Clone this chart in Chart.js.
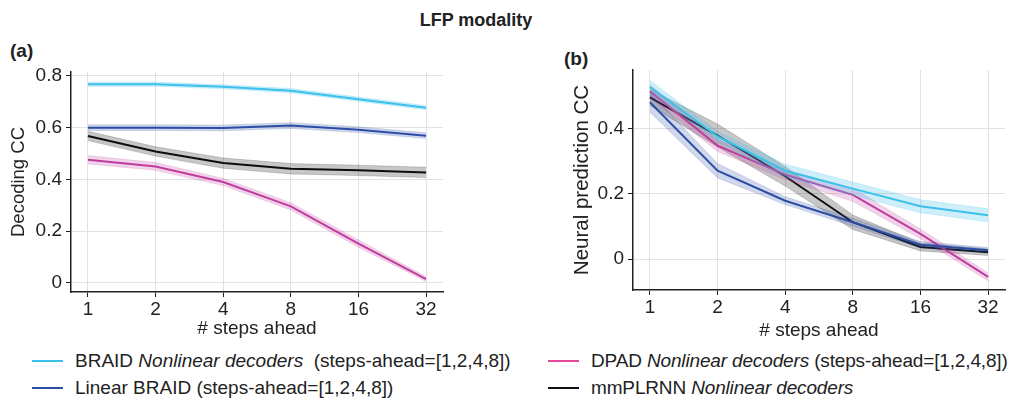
<!DOCTYPE html>
<html>
<head>
<meta charset="utf-8">
<script src="https://cdn.jsdelivr.net/npm/chart.js@4"></script>
<style>
  body { margin: 0; background: #fff; width: 1012px; height: 400px; position: relative; overflow: hidden;
         font-family: "Liberation Sans", Arial, sans-serif; color: #222; }
  .box { position: absolute; }
  #title { position: absolute; left: 0; width: 952px; top: 10px; text-align: center; font-weight: bold; font-size: 18px; }
  .panel { position: absolute; font-weight: bold; font-size: 19px; }
  .leg { position: absolute; font-size: 19px; white-space: nowrap; line-height: 22px; }
  .leg span.ln { display: inline-block; width: 31px; height: 2px; vertical-align: middle; margin-right: 12px; position: relative; top: -1px; }
  .leg.r { letter-spacing: -0.15px; }
</style>
</head>
<body>
<div id="title">LFP modality</div>
<div class="panel" style="left:10px;top:40px;">(a)</div>
<div class="panel" style="left:564px;top:48px;">(b)</div>
<div class="box" style="left:0;top:0;width:460px;height:345px;"><canvas id="ca"></canvas></div>
<div class="box" style="left:540px;top:0;width:472px;height:345px;"><canvas id="cb"></canvas></div>

<div class="leg" style="left:32px;top:350px;"><span class="ln" style="background:#3cc0ec"></span>BRAID <i>Nonlinear decoders</i>&nbsp; (steps-ahead=[1,2,4,8])</div>
<div class="leg" style="left:32px;top:377px;"><span class="ln" style="background:#2c4ea6"></span>Linear BRAID (steps-ahead=[1,2,4,8])</div>
<div class="leg r" style="left:548px;top:350px;"><span class="ln" style="background:#e8489c"></span>DPAD <i>Nonlinear decoders</i> (steps-ahead=[1,2,4,8])</div>
<div class="leg r" style="left:548px;top:377px;"><span class="ln" style="background:#111"></span>mmPLRNN <i>Nonlinear decoders</i></div>

<script>
// categories (steps ahead)
const steps = ['1', '2', '4', '8', '16', '32'];

// (a) decoding CC
const decBraid  = [0.768, 0.768, 0.758, 0.743, 0.710, 0.677];
const decLinear = [0.600, 0.600, 0.599, 0.608, 0.592, 0.569];
const decPlrnn  = [0.568, 0.508, 0.463, 0.441, 0.435, 0.427];
const decDpad   = [0.476, 0.450, 0.390, 0.296, 0.152, 0.015];
const decBraidErr  = [0.008, 0.008, 0.008, 0.008, 0.008, 0.008];
const decLinearErr = [0.011, 0.011, 0.011, 0.011, 0.011, 0.011];
const decPlrnnErr  = [0.018, 0.018, 0.020, 0.020, 0.020, 0.020];
const decDpadErr   = [0.016, 0.015, 0.014, 0.014, 0.014, 0.010];

// (b) neural prediction CC
const nrnBraid  = [0.528, 0.376, 0.271, 0.216, 0.162, 0.134];
const nrnLinear = [0.481, 0.271, 0.179, 0.113, 0.044, 0.027];
const nrnPlrnn  = [0.496, 0.379, 0.254, 0.113, 0.037, 0.021];
const nrnDpad   = [0.515, 0.348, 0.259, 0.197, 0.077, -0.055];
const nrnBraidErr  = [0.020, 0.015, 0.020, 0.020, 0.020, 0.020];
const nrnLinearErr = [0.030, 0.022, 0.012, 0.012, 0.010, 0.008];
const nrnPlrnnErr  = [0.025, 0.035, 0.030, 0.022, 0.012, 0.010];
const nrnDpadErr   = [0.020, 0.018, 0.015, 0.020, 0.015, 0.012];

const yTicksA = [0, 0.2, 0.4, 0.6, 0.8];
const yTicksB = [0, 0.2, 0.4];

const colBraid = '#3cc0ec', colLinear = '#2c4ea6', colPlrnn = '#111111', colDpad = '#c13d9e';
const bandBraid = 'rgba(60,192,236,0.25)', bandLinear = 'rgba(44,78,166,0.22)',
      bandPlrnn = 'rgba(0,0,0,0.22)', bandDpad = 'rgba(193,61,158,0.22)';

function series(vals, err, color, band) {
  const lo = vals.map((v, i) => ({ x: i, y: v - err[i] }));
  const hi = vals.map((v, i) => ({ x: i, y: v + err[i] }));
  return [
    { data: lo, borderColor: band, borderWidth: 0.8, pointRadius: 0, fill: false },
    { data: hi, borderColor: band, borderWidth: 0.8, pointRadius: 0, fill: '-1', backgroundColor: band },
    { data: vals.map((v, i) => ({ x: i, y: v })), borderColor: color, borderWidth: 2, pointRadius: 0, fill: false }
  ];
}

Chart.defaults.font.family = '"Liberation Sans", Arial, sans-serif';
Chart.defaults.color = '#222';

function makeChart(id, sets, yMin, yMax, yTicks, yTitle, yTitleSize, yWidth, xHeight, pad) {
  return new Chart(document.getElementById(id), {
    type: 'line',
    data: { datasets: sets },
    options: {
      responsive: true, maintainAspectRatio: false, animation: false,
      layout: { padding: pad },
      plugins: { legend: { display: false }, tooltip: { enabled: false } },
      scales: {
        x: {
          type: 'linear', min: -0.25, max: 5.25,
          afterBuildTicks: ax => { ax.ticks = steps.map((s, i) => ({ value: i })); },
          afterFit: ax => { ax.height = xHeight; },
          ticks: { callback: v => steps[v], font: { size: 19 }, padding: 1, maxRotation: 0 },
          grid: { color: '#e2e2e2', lineWidth: 1, tickLength: 5, tickColor: '#222' },
          border: { color: '#222', width: 1.5 },
          title: { display: true, text: '# steps ahead', font: { size: 19 }, padding: { top: 0, bottom: 0 } }
        },
        y: {
          min: yMin, max: yMax,
          afterBuildTicks: ax => { ax.ticks = yTicks.map(v => ({ value: v })); },
          afterFit: ax => { ax.width = yWidth; },
          ticks: { callback: v => v === 0 ? '0' : v.toFixed(1), font: { size: 19 }, padding: 4 },
          grid: { color: '#e2e2e2', lineWidth: 1, tickLength: 5, tickColor: '#222' },
          border: { color: '#222', width: 1.5 },
          title: { display: true, text: yTitle, font: { size: yTitleSize }, padding: { top: 0, bottom: 2 } }
        }
      }
    }
  });
}

makeChart('ca', [
  ...series(decPlrnn, decPlrnnErr, colPlrnn, bandPlrnn),
  ...series(decDpad, decDpadErr, colDpad, bandDpad),
  ...series(decLinear, decLinearErr, colLinear, bandLinear),
  ...series(decBraid, decBraidErr, colBraid, bandBraid)
], -0.035, 0.815, yTicksA, 'Decoding CC', 18.5, 63, 48, { left: 8, right: 17, top: 72, bottom: 5 });

makeChart('cb', [
  ...series(nrnLinear, nrnLinearErr, colLinear, bandLinear),
  ...series(nrnBraid, nrnBraidErr, colBraid, bandBraid),
  ...series(nrnDpad, nrnDpadErr, colDpad, bandDpad),
  ...series(nrnPlrnn, nrnPlrnnErr, colPlrnn, bandPlrnn)
], -0.095, 0.58, yTicksB, 'Neural prediction CC', 20.5, 63, 52, { left: 30, right: 7, top: 70, bottom: 3 });
</script>
</body>
</html>
